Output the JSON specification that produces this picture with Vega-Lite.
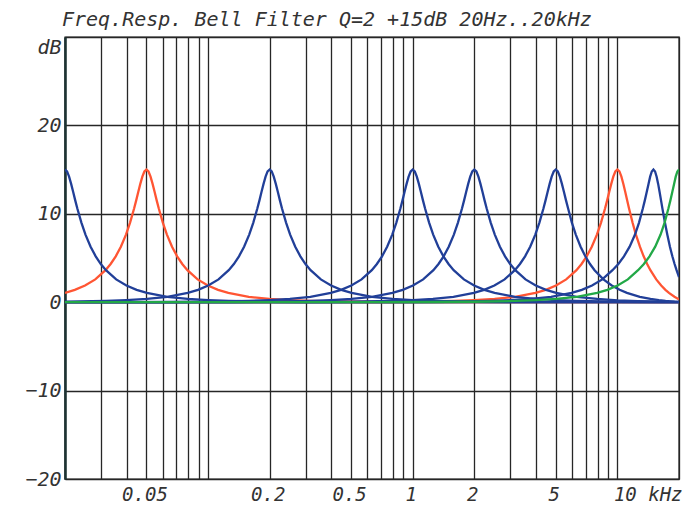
{
  "$schema": "https://vega.github.io/schema/vega-lite/v6.json",
  "width": 614,
  "height": 442,
  "autosize": "none",
  "padding": {"left": 65, "top": 37, "right": 10, "bottom": 27},
  "background": "white",
  "config": {
    "view": {"stroke": "#222", "strokeWidth": 1.4},
    "font": "DejaVu Sans Mono"
  },
  "title": {
    "text": "Freq.Resp. Bell Filter Q=2 +15dB 20Hz..20kHz",
    "anchor": "start",
    "frame": "group",
    "font": "DejaVu Sans Mono",
    "fontStyle": "italic",
    "fontWeight": "normal",
    "fontSize": 20,
    "color": "#333",
    "baseline": "alphabetic",
    "offset": -9,
    "dx": -3
  },
  "datasets": {
    "a": [{"f":0.02,"db":15},{"f":0.02047,"db":14.79},{"f":0.02094,"db":14.2},{"f":0.02143,"db":13.38},{"f":0.02193,"db":12.46},{"f":0.02244,"db":11.52},{"f":0.02296,"db":10.62},{"f":0.02405,"db":9.01},{"f":0.02518,"db":7.65},{"f":0.02667,"db":6.28},{"f":0.02825,"db":5.19},{"f":0.02992,"db":4.32},{"f":0.0317,"db":3.62},{"f":0.03557,"db":2.58},{"f":0.03991,"db":1.89},{"f":0.04477,"db":1.4},{"f":0.05024,"db":1.05},{"f":0.06325,"db":0.61},{"f":0.07962,"db":0.37},{"f":0.1002,"db":0.23},{"f":0.1262,"db":0.14},{"f":0.2,"db":0.05},{"f":0.317,"db":0.02},{"f":0.6325,"db":0.01},{"f":2,"db":0},{"f":20,"db":0}],
    "b": [{"f":0.02,"db":1.06},{"f":0.02233,"db":1.4},{"f":0.02506,"db":1.89},{"f":0.02812,"db":2.58},{"f":0.03155,"db":3.62},{"f":0.03342,"db":4.32},{"f":0.0354,"db":5.19},{"f":0.0375,"db":6.28},{"f":0.03972,"db":7.65},{"f":0.04159,"db":9.01},{"f":0.04355,"db":10.62},{"f":0.04456,"db":11.52},{"f":0.0456,"db":12.46},{"f":0.04666,"db":13.38},{"f":0.04775,"db":14.2},{"f":0.04886,"db":14.79},{"f":0.05,"db":15},{"f":0.05117,"db":14.79},{"f":0.05236,"db":14.2},{"f":0.05358,"db":13.38},{"f":0.05483,"db":12.46},{"f":0.0561,"db":11.52},{"f":0.05741,"db":10.62},{"f":0.06012,"db":9.01},{"f":0.06295,"db":7.65},{"f":0.06668,"db":6.28},{"f":0.07063,"db":5.19},{"f":0.07481,"db":4.32},{"f":0.07925,"db":3.62},{"f":0.08892,"db":2.58},{"f":0.09977,"db":1.89},{"f":0.1119,"db":1.4},{"f":0.1256,"db":1.05},{"f":0.1581,"db":0.61},{"f":0.1991,"db":0.37},{"f":0.2506,"db":0.23},{"f":0.3155,"db":0.14},{"f":0.5,"db":0.05},{"f":0.7925,"db":0.02},{"f":1.581,"db":0.01},{"f":5,"db":0},{"f":20,"db":0}],
    "c": [{"f":0.02,"db":0.05},{"f":0.0317,"db":0.14},{"f":0.03991,"db":0.23},{"f":0.05024,"db":0.37},{"f":0.06325,"db":0.61},{"f":0.07962,"db":1.05},{"f":0.08934,"db":1.4},{"f":0.1002,"db":1.89},{"f":0.1125,"db":2.58},{"f":0.1262,"db":3.62},{"f":0.1337,"db":4.32},{"f":0.1416,"db":5.19},{"f":0.15,"db":6.28},{"f":0.1589,"db":7.65},{"f":0.1664,"db":9.01},{"f":0.1742,"db":10.62},{"f":0.1783,"db":11.52},{"f":0.1824,"db":12.46},{"f":0.1867,"db":13.38},{"f":0.191,"db":14.2},{"f":0.1954,"db":14.79},{"f":0.2,"db":15},{"f":0.2047,"db":14.79},{"f":0.2094,"db":14.2},{"f":0.2143,"db":13.38},{"f":0.2193,"db":12.46},{"f":0.2244,"db":11.52},{"f":0.2296,"db":10.62},{"f":0.2405,"db":9.01},{"f":0.2518,"db":7.65},{"f":0.2667,"db":6.28},{"f":0.2825,"db":5.19},{"f":0.2992,"db":4.32},{"f":0.317,"db":3.62},{"f":0.3557,"db":2.58},{"f":0.3991,"db":1.89},{"f":0.4477,"db":1.4},{"f":0.5024,"db":1.05},{"f":0.6325,"db":0.61},{"f":0.7962,"db":0.37},{"f":1.002,"db":0.23},{"f":1.262,"db":0.14},{"f":2,"db":0.05},{"f":3.17,"db":0.02},{"f":6.325,"db":0.01},{"f":20,"db":0}],
    "d": [{"f":0.02,"db":0},{"f":0.03162,"db":0.01},{"f":0.0631,"db":0.02},{"f":0.1,"db":0.05},{"f":0.1585,"db":0.14},{"f":0.1995,"db":0.23},{"f":0.2512,"db":0.37},{"f":0.3162,"db":0.61},{"f":0.3981,"db":1.05},{"f":0.4467,"db":1.4},{"f":0.5012,"db":1.89},{"f":0.5623,"db":2.58},{"f":0.631,"db":3.62},{"f":0.6683,"db":4.32},{"f":0.708,"db":5.19},{"f":0.7499,"db":6.28},{"f":0.7943,"db":7.65},{"f":0.8318,"db":9.01},{"f":0.871,"db":10.62},{"f":0.8913,"db":11.52},{"f":0.912,"db":12.46},{"f":0.9333,"db":13.38},{"f":0.955,"db":14.2},{"f":0.9772,"db":14.79},{"f":1,"db":15},{"f":1.0233,"db":14.79},{"f":1.0471,"db":14.2},{"f":1.0715,"db":13.38},{"f":1.0965,"db":12.46},{"f":1.122,"db":11.52},{"f":1.1482,"db":10.62},{"f":1.2023,"db":9.01},{"f":1.2589,"db":7.65},{"f":1.3335,"db":6.28},{"f":1.4125,"db":5.19},{"f":1.4962,"db":4.32},{"f":1.5849,"db":3.62},{"f":1.7783,"db":2.58},{"f":1.9953,"db":1.89},{"f":2.2387,"db":1.4},{"f":2.5119,"db":1.05},{"f":3.1623,"db":0.61},{"f":3.9811,"db":0.37},{"f":5.0119,"db":0.23},{"f":6.3096,"db":0.14},{"f":10,"db":0.05},{"f":15.85,"db":0.02},{"f":20,"db":0.01}],
    "e": [{"f":0.02,"db":0},{"f":0.06325,"db":0.01},{"f":0.1262,"db":0.02},{"f":0.2,"db":0.05},{"f":0.317,"db":0.14},{"f":0.3991,"db":0.23},{"f":0.5024,"db":0.37},{"f":0.6325,"db":0.61},{"f":0.7962,"db":1.05},{"f":0.8934,"db":1.4},{"f":1.0024,"db":1.89},{"f":1.1247,"db":2.58},{"f":1.2619,"db":3.62},{"f":1.3367,"db":4.32},{"f":1.4159,"db":5.19},{"f":1.4998,"db":6.28},{"f":1.5887,"db":7.65},{"f":1.6635,"db":9.01},{"f":1.7419,"db":10.62},{"f":1.7825,"db":11.52},{"f":1.824,"db":12.46},{"f":1.8665,"db":13.38},{"f":1.91,"db":14.2},{"f":1.9545,"db":14.79},{"f":2,"db":15},{"f":2.0466,"db":14.79},{"f":2.0942,"db":14.2},{"f":2.143,"db":13.38},{"f":2.193,"db":12.46},{"f":2.244,"db":11.52},{"f":2.2964,"db":10.62},{"f":2.4046,"db":9.01},{"f":2.5178,"db":7.65},{"f":2.667,"db":6.28},{"f":2.825,"db":5.19},{"f":2.9924,"db":4.32},{"f":3.1698,"db":3.62},{"f":3.5566,"db":2.58},{"f":3.9906,"db":1.89},{"f":4.4774,"db":1.4},{"f":5.0238,"db":1.05},{"f":6.3246,"db":0.61},{"f":7.9622,"db":0.37},{"f":10.024,"db":0.2},{"f":12.619,"db":0.12},{"f":20,"db":0.03}],
    "g5": [{"f":0.02,"db":0},{"f":0.1581,"db":0.01},{"f":0.3155,"db":0.02},{"f":0.5,"db":0.05},{"f":0.7925,"db":0.14},{"f":0.9977,"db":0.23},{"f":1.256,"db":0.37},{"f":1.581,"db":0.61},{"f":1.9906,"db":1.05},{"f":2.2334,"db":1.4},{"f":2.506,"db":1.89},{"f":2.8117,"db":2.58},{"f":3.1548,"db":3.62},{"f":3.3417,"db":4.32},{"f":3.5398,"db":5.19},{"f":3.7495,"db":6.28},{"f":3.9717,"db":7.65},{"f":4.1588,"db":9.01},{"f":4.3548,"db":10.62},{"f":4.4563,"db":11.52},{"f":4.5601,"db":12.46},{"f":4.6663,"db":13.38},{"f":4.775,"db":14.2},{"f":4.8862,"db":14.79},{"f":5,"db":15},{"f":5.1165,"db":14.79},{"f":5.2355,"db":14.2},{"f":5.3575,"db":13.38},{"f":5.4825,"db":12.46},{"f":5.61,"db":11.52},{"f":5.741,"db":10.62},{"f":5.992,"db":9.01},{"f":6.262,"db":7.65},{"f":6.611,"db":6.28},{"f":6.973,"db":5.19},{"f":7.348,"db":4.32},{"f":7.736,"db":3.62},{"f":8.544,"db":2.58},{"f":9.385,"db":1.89},{"f":10.254,"db":1.4},{"f":11.133,"db":1.05},{"f":12.874,"db":0.61},{"f":14.507,"db":0.37},{"f":15.956,"db":0.23},{"f":17.189,"db":0.14},{"f":18.207,"db":0.09},{"f":19.031,"db":0.05},{"f":20,"db":0.03}],
    "r10": [{"f":0.02,"db":0},{"f":0.3162,"db":0.01},{"f":0.631,"db":0.02},{"f":1,"db":0.05},{"f":1.585,"db":0.14},{"f":1.995,"db":0.23},{"f":2.512,"db":0.37},{"f":3.162,"db":0.61},{"f":3.981,"db":1.05},{"f":4.467,"db":1.4},{"f":5.012,"db":1.89},{"f":5.623,"db":2.58},{"f":6.31,"db":3.62},{"f":6.683,"db":4.32},{"f":7.08,"db":5.19},{"f":7.499,"db":6.28},{"f":7.943,"db":7.65},{"f":8.318,"db":9.01},{"f":8.71,"db":10.62},{"f":8.913,"db":11.52},{"f":9.12,"db":12.46},{"f":9.333,"db":13.38},{"f":9.55,"db":14.2},{"f":9.772,"db":14.79},{"f":10,"db":15},{"f":10.231,"db":14.79},{"f":10.462,"db":14.2},{"f":10.695,"db":13.38},{"f":10.927,"db":12.46},{"f":11.16,"db":11.52},{"f":11.393,"db":10.62},{"f":11.857,"db":9.01},{"f":12.317,"db":7.65},{"f":12.884,"db":6.28},{"f":13.438,"db":5.19},{"f":13.977,"db":4.32},{"f":14.499,"db":3.62},{"f":15.481,"db":2.58},{"f":16.371,"db":1.89},{"f":17.165,"db":1.4},{"f":17.864,"db":1.05},{"f":19.002,"db":0.61},{"f":19.845,"db":0.37},{"f":20,"db":0.34}],
    "b15": [{"f":0.02,"db":0},{"f":0.474,"db":0.01},{"f":0.946,"db":0.02},{"f":1.5,"db":0.05},{"f":2.377,"db":0.14},{"f":2.993,"db":0.23},{"f":3.768,"db":0.37},{"f":4.743,"db":0.61},{"f":5.972,"db":1.05},{"f":6.7,"db":1.4},{"f":7.518,"db":1.89},{"f":8.435,"db":2.58},{"f":9.464,"db":3.62},{"f":10.107,"db":4.32},{"f":10.767,"db":5.19},{"f":11.478,"db":6.28},{"f":12.192,"db":7.65},{"f":12.758,"db":9.01},{"f":13.323,"db":10.62},{"f":13.617,"db":11.52},{"f":13.91,"db":12.46},{"f":14.194,"db":13.38},{"f":14.457,"db":14.2},{"f":14.726,"db":14.79},{"f":15,"db":15},{"f":15.28,"db":14.79},{"f":15.55,"db":14.2},{"f":15.82,"db":13.38},{"f":16.08,"db":12.46},{"f":16.34,"db":11.52},{"f":16.59,"db":10.62},{"f":17.07,"db":9.01},{"f":17.53,"db":7.65},{"f":18.06,"db":6.28},{"f":18.56,"db":5.19},{"f":19.03,"db":4.32},{"f":19.46,"db":3.62},{"f":20,"db":2.85}],
    "g20": [{"f":0.02,"db":0},{"f":0.632,"db":0.01},{"f":1.262,"db":0.02},{"f":2,"db":0.05},{"f":3.17,"db":0.14},{"f":3.991,"db":0.23},{"f":5.024,"db":0.37},{"f":6.325,"db":0.61},{"f":7.962,"db":1.05},{"f":8.934,"db":1.4},{"f":10.024,"db":1.89},{"f":11.247,"db":2.58},{"f":12.619,"db":3.62},{"f":13.475,"db":4.32},{"f":14.356,"db":5.19},{"f":15.304,"db":6.28},{"f":16.257,"db":7.65},{"f":17.011,"db":9.01},{"f":17.764,"db":10.62},{"f":18.156,"db":11.52},{"f":18.546,"db":12.46},{"f":18.925,"db":13.38},{"f":19.277,"db":14.2},{"f":19.635,"db":14.79},{"f":20,"db":15}]
  },
  "encoding": {
    "x": {
      "field": "f", "type": "quantitative",
      "scale": {"type": "log", "domain": [0.02, 20], "nice": false},
      "axis": {
        "title": null,
        "values": [0.02,0.03,0.04,0.05,0.06,0.07,0.08,0.09,0.1,0.2,0.3,0.4,0.5,0.6,0.7,0.8,0.9,1,2,3,4,5,6,7,8,9,10,20],
        "labelExpr": "datum.value == 10 ? '10 kHz' : ((datum.value == 0.05 || datum.value == 0.2 || datum.value == 0.5 || datum.value == 1 || datum.value == 2 || datum.value == 5) ? format(datum.value, '~g') : '')",
        "labelOverlap": false,
        "labelFlush": false,
        "labelAlign": {"condition": {"test": "datum.value == 10", "value": "left"}, "value": "center"},
        "labelOffset": {"condition": {"test": "datum.value == 10", "value": -4}, "value": -2},
        "labelFont": "DejaVu Sans Mono",
        "labelFontStyle": "italic",
        "labelFontSize": 19,
        "labelColor": "#333",
        "labelPadding": 6,
        "ticks": false,
        "domain": false,
        "grid": true,
        "gridColor": "#262626",
        "gridWidth": 1.3,
        "gridOpacity": 1
      }
    },
    "y": {
      "field": "db", "type": "quantitative",
      "scale": {"domain": [-20, 30], "nice": false, "zero": false},
      "axis": {
        "title": null,
        "values": [-20, -10, 0, 10, 20, 30],
        "labelExpr": "datum.value == 30 ? 'dB' : format(datum.value, '~g')",
        "labelOffset": {"condition": {"test": "datum.value == 30", "value": 10}, "value": 0},
        "labelFont": "DejaVu Sans Mono",
        "labelFontStyle": "italic",
        "labelFontSize": 20,
        "labelColor": "#333",
        "labelPadding": 4,
        "ticks": false,
        "domain": true,
        "domainColor": "#1d3333",
        "domainWidth": 2.5,
        "grid": true,
        "gridColor": "#262626",
        "gridWidth": 1.3,
        "gridOpacity": 1
      }
    }
  },
  "layer": [
    {"data": {"name": "b"}, "mark": {"type": "line", "clip": true, "color": "#ff5533", "strokeWidth": 2.3}},
    {"data": {"name": "r10"}, "mark": {"type": "line", "clip": true, "color": "#ff5533", "strokeWidth": 2.3}},
    {"data": {"name": "a"}, "mark": {"type": "line", "clip": true, "color": "#213f98", "strokeWidth": 2.3}},
    {"data": {"name": "c"}, "mark": {"type": "line", "clip": true, "color": "#213f98", "strokeWidth": 2.3}},
    {"data": {"name": "d"}, "mark": {"type": "line", "clip": true, "color": "#213f98", "strokeWidth": 2.3}},
    {"data": {"name": "e"}, "mark": {"type": "line", "clip": true, "color": "#213f98", "strokeWidth": 2.3}},
    {"data": {"name": "g5"}, "mark": {"type": "line", "clip": true, "color": "#213f98", "strokeWidth": 2.3}},
    {"data": {"name": "b15"}, "mark": {"type": "line", "clip": true, "color": "#213f98", "strokeWidth": 2.3}},
    {"data": {"name": "g20"}, "mark": {"type": "line", "clip": true, "color": "#22a847", "strokeWidth": 2.3}}
  ]
}
